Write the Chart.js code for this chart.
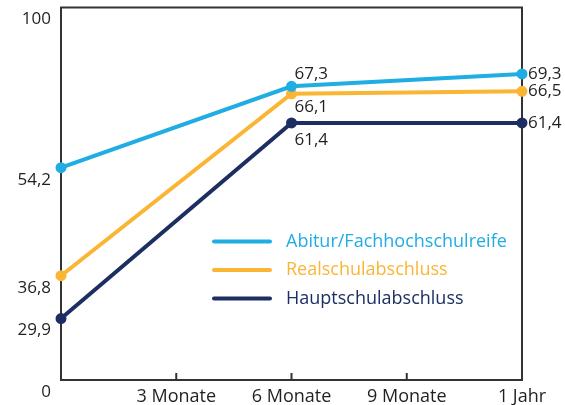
<!DOCTYPE html>
<html>
<head>
<meta charset="utf-8">
<script src="https://cdn.jsdelivr.net/npm/chart.js@4.4.1/dist/chart.umd.min.js"></script>
<style>
  html, body { margin: 0; padding: 0; background: #fff; }
</style>
</head>
<body>
<canvas id="chart" width="565" height="405"></canvas>
<script>
// data
const months = [0, 6, 12];
const abitur = [54.2, 67.3, 69.3];
const realschule = [36.8, 66.1, 66.5];
const hauptschule = [29.9, 61.4, 61.4];
const seriesNames = ['Abitur/Fachhochschulreife', 'Realschulabschluss', 'Hauptschulabschluss'];
const seriesColors = ['#1fade3', '#fbb534', '#1d2f62'];

const xTickValues = [3, 6, 9, 12];
const xTickLabels = ['3 Monate', '6 Monate', '9 Monate', '1 Jahr'];
// the original axis is cut: bottom is labelled 0, top 100
const yTickValues = [20, 29.9, 36.8, 54.2, 80];
const yTickLabels = ['0', '29,9', '36,8', '54,2', '100'];

const FONT = '"Open Sans", "DejaVu Sans", sans-serif';
const TEXT = '#231f20';

// box around the plot + inner tick marks on the bottom
const frame = {
    id: 'frame',
    beforeDatasetsDraw(chart) {
        const { ctx, chartArea: a, scales: { x } } = chart;
        ctx.save();
        ctx.strokeStyle = '#333';
        ctx.lineWidth = 2;
        ctx.strokeRect(a.left, a.top, a.right - a.left, a.bottom - a.top);
        ctx.beginPath();
        xTickValues.slice(0, -1).forEach((v) => {
            const px = x.getPixelForValue(v);
            ctx.moveTo(px, a.bottom);
            ctx.lineTo(px, a.bottom - 7);
        });
        ctx.stroke();
        ctx.restore();
    }
};

// value labels next to the 6-month and 1-year points
const valueLabels = {
    id: 'valueLabels',
    afterDatasetsDraw(chart) {
        const { ctx } = chart;
        const midOffset = [-12, 13, 17];
        ctx.save();
        ctx.font = '17px ' + FONT;
        ctx.fillStyle = TEXT;
        ctx.textAlign = 'left';
        ctx.textBaseline = 'middle';
        chart.data.datasets.forEach((ds, i) => {
            const pts = chart.getDatasetMeta(i).data;
            const fmt = (v) => v.toFixed(1).replace('.', ',');
            ctx.fillText(fmt(ds.data[1]), pts[1].x + 3, pts[1].y + midOffset[i]);
            ctx.fillText(fmt(ds.data[2]), pts[2].x + 6, pts[2].y);
        });
        ctx.restore();
    }
};

// legend sitting inside the plot area
const innerLegend = {
    id: 'innerLegend',
    afterDraw(chart) {
        const { ctx, chartArea: a } = chart;
        ctx.save();
        ctx.font = '18px ' + FONT;
        ctx.textBaseline = 'middle';
        ctx.lineWidth = 4;
        ctx.lineCap = 'round';
        chart.data.datasets.forEach((ds, i) => {
            const y = a.top + 234 + i * 28.5;
            ctx.strokeStyle = ds.borderColor;
            ctx.beginPath();
            ctx.moveTo(a.left + 153, y);
            ctx.lineTo(a.left + 209, y);
            ctx.stroke();
            ctx.fillStyle = ds.borderColor;
            ctx.fillText(ds.label, a.left + 225, y);
        });
        ctx.restore();
    }
};

function makeSeries(label, values, color) {
    return {
        label: label,
        data: values,
        borderColor: color,
        backgroundColor: color,
        pointBackgroundColor: color,
        pointBorderColor: color,
        borderWidth: 4,
        pointRadius: 3.5,
        pointHoverRadius: 3.5,
        tension: 0,
        clip: false
    };
}

new Chart(document.getElementById('chart'), {
    type: 'line',
    data: {
        labels: months,
        datasets: [
            makeSeries(seriesNames[0], abitur, seriesColors[0]),
            makeSeries(seriesNames[1], realschule, seriesColors[1]),
            makeSeries(seriesNames[2], hauptschule, seriesColors[2])
        ]
    },
    options: {
        responsive: false,
        animation: false,
        layout: { padding: { top: 7, right: 43, left: 0, bottom: 0 } },
        plugins: { legend: { display: false }, tooltip: { enabled: false } },
        scales: {
            x: {
                type: 'linear',
                min: 0,
                max: 12,
                afterBuildTicks: (s) => { s.ticks = xTickValues.map((v) => ({ value: v })); },
                afterFit: (s) => { s.height = 25; s.paddingLeft = 0; s.paddingRight = 0; },
                grid: { display: false, drawTicks: false },
                border: { display: false },
                ticks: {
                    autoSkip: false,
                    maxRotation: 0,
                    padding: 6,
                    color: TEXT,
                    font: { family: FONT, size: 18 },
                    callback: (v, i) => xTickLabels[i]
                }
            },
            y: {
                min: 20,
                max: 80,
                afterBuildTicks: (s) => { s.ticks = yTickValues.map((v) => ({ value: v })); },
                afterFit: (s) => { s.width = 61; s.paddingTop = 0; s.paddingBottom = 0; },
                grid: { display: false, drawTicks: false },
                border: { display: false },
                ticks: {
                    autoSkip: false,
                    padding: 10,
                    labelOffset: 12,
                    color: TEXT,
                    font: { family: FONT, size: 17 },
                    callback: (v, i) => yTickLabels[i]
                }
            }
        }
    },
    plugins: [frame, valueLabels, innerLegend]
});
</script>
</body>
</html>
